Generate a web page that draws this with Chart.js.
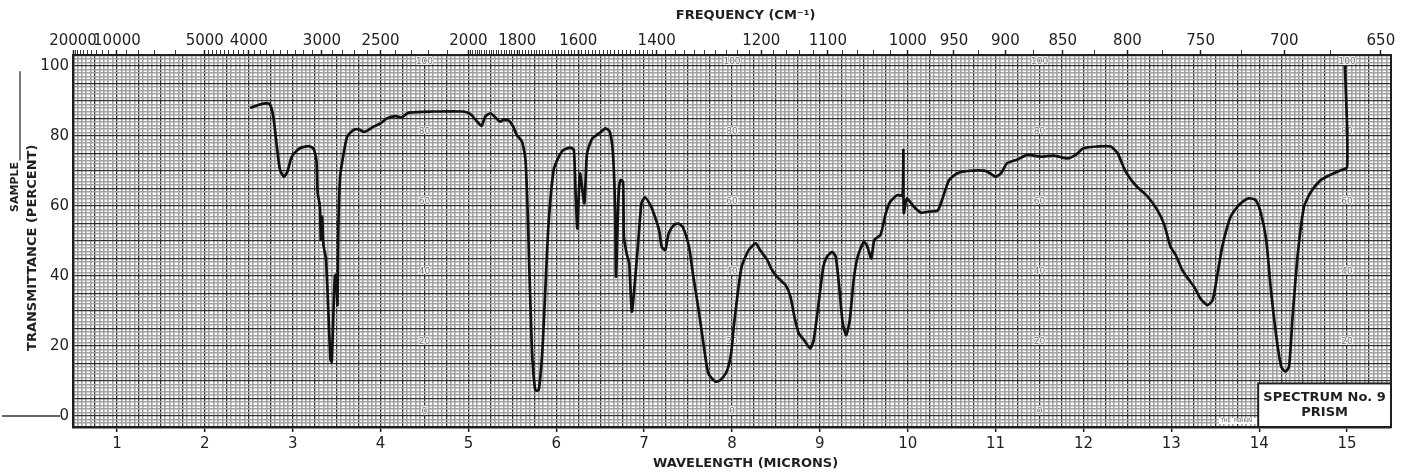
<!DOCTYPE html>
<html>
<head>
<meta charset="utf-8">
<title>IR spectrum No. 9</title>
<script src="https://cdn.jsdelivr.net/npm/chart.js@4.4.1/dist/chart.umd.min.js"></script>
<style>
  html, body { margin: 0; padding: 0; background: #fff; }
  #wrap { position: relative; width: 1414px; height: 476px; }
</style>
</head>
<body>
<div id="wrap"><canvas id="spectrum"></canvas></div>
<script>
// wavelength (microns) and % transmittance
const wavelength = [
  2.515, 2.60, 2.686, 2.74, 2.78, 2.82, 2.856, 2.90, 2.94, 2.99, 3.08, 3.18, 3.236, 3.27, 3.285,
  3.31, 3.32, 3.335, 3.35, 3.38, 3.43, 3.445, 3.465, 3.48, 3.495, 3.51, 3.52, 3.54, 3.58, 3.62,
  3.69, 3.75, 3.81, 3.86, 3.92, 4.00, 4.07, 4.17, 4.24, 4.32, 4.60, 4.94, 5.02, 5.10, 5.15,
  5.19, 5.25, 5.30, 5.36, 5.40, 5.46, 5.51, 5.55, 5.61, 5.65, 5.68, 5.72, 5.76, 5.80, 5.84,
  5.87, 5.91, 5.97, 6.03, 6.08, 6.16, 6.20, 6.22, 6.24, 6.27, 6.32, 6.35, 6.41, 6.50, 6.56,
  6.61, 6.645, 6.67, 6.68, 6.71, 6.73, 6.76, 6.77, 6.80, 6.83, 6.86, 6.90, 6.94, 6.97, 7.01,
  7.07, 7.11, 7.17, 7.20, 7.24, 7.28, 7.34, 7.39, 7.44, 7.51, 7.56, 7.62, 7.68, 7.73, 7.81,
  7.87, 7.94, 7.99, 8.02, 8.065, 8.11, 8.19, 8.27, 8.32, 8.40, 8.455, 8.53, 8.61, 8.665, 8.71,
  8.76, 8.82, 8.89, 8.93, 8.99, 9.04, 9.08, 9.14, 9.18, 9.22, 9.26, 9.30, 9.34, 9.385, 9.43,
  9.50, 9.54, 9.585, 9.62, 9.69, 9.75, 9.80, 9.88, 9.94, 9.95, 9.955, 9.99, 10.07, 10.15, 10.24,
  10.34, 10.39, 10.47, 10.56, 10.68, 10.87, 10.94, 11.00, 11.06, 11.13, 11.25, 11.36, 11.51, 11.66, 11.82,
  11.91, 12.00, 12.16, 12.31, 12.39, 12.48, 12.59, 12.73, 12.84, 12.92, 12.99, 13.05, 13.125, 13.20, 13.26,
  13.33, 13.41, 13.47, 13.52, 13.58, 13.66, 13.71, 13.79, 13.88, 13.96, 14.02, 14.08, 14.13, 14.19, 14.25,
  14.30, 14.34, 14.38, 14.44, 14.51, 14.59, 14.70, 14.81, 14.89, 14.96, 15.00, 15.00, 14.975
];
const transmittance = [
  88, 88.8, 89.3, 89.1, 85.5, 77, 70.3, 68.4, 69.8, 74.1, 76.5, 77.1, 76.5, 73.1, 63.6,
  60, 50.3, 57, 49, 44.6, 16, 15.5, 30.3, 39.8, 40.4, 31.7, 54, 68.4, 75, 79.8,
  81.7, 81.9, 81.2, 81.7, 82.7, 83.6, 85, 85.7, 85.3, 86.7, 87, 87, 86.3, 84.1, 82.9,
  85.5, 86.5, 85.5, 84.1, 84.6, 84.4, 82.7, 80.3, 78.4, 73.1, 54, 20.8, 7.4, 7.4, 17.9,
  33.1, 54, 70.3, 74.1, 76, 76.7, 76, 63.6, 53.6, 69.3, 60.8, 75, 79.3, 81, 82.2,
  81.2, 75, 58.9, 39.8, 63.6, 67.4, 66.9, 51.2, 46.5, 43.6, 29.8, 39.8, 52.2, 60.8, 62.5,
  60.3, 57.9, 53.1, 48.4, 47.4, 52.2, 54.6, 55, 54, 48.4, 39.8, 30.3, 19.8, 12.2, 9.8,
  10.3, 12.7, 17.9, 25.5, 35, 42.7, 47.4, 49.3, 47.4, 44.6, 41.7, 39.3, 37.4, 34.1, 28.4,
  23.6, 21.7, 19.3, 21.7, 33.1, 42.7, 45.5, 46.9, 45.5, 36.9, 26.5, 23.1, 27.4, 38.9, 45.5,
  49.8, 48.4, 45, 50.3, 51.7, 57.9, 61.2, 63.1, 63, 76, 58, 62.2, 59.8, 58.1, 58.4,
  58.7, 61.7, 67.4, 69.3, 70, 70.1, 69.3, 68.4, 69.3, 72.2, 73.3, 74.6, 74.1, 74.4, 73.6,
  74.6, 76.5, 77, 77, 75, 69.8, 66, 62.7, 58.9, 54.6, 48.4, 46, 41.7, 38.9, 36.9,
  33.6, 31.7, 33.1, 39.8, 48.4, 56, 58.4, 60.8, 62.2, 61.7, 57.9, 50.3, 36.9, 23.6, 14.1,
  12.7, 14.1, 28.4, 46.5, 59.8, 64.1, 67.4, 68.9, 69.8, 70.5, 71, 83, 100
];

// axis labels
const wavelengthLabels = [1, 2, 3, 4, 5, 6, 7, 8, 9, 10, 11, 12, 13, 14, 15];
const percentLabels = [0, 20, 40, 60, 80, 100];
const frequencyLabels = [20000, 10000, 5000, 4000, 3000, 2500, 2000, 1800, 1600, 1400,
  1200, 1100, 1000, 950, 900, 850, 800, 750, 700, 650];
// printed chart-paper numbers (columns in microns)
const paperColumns = [4.5, 8, 11.5, 15];
const paperValues = [100, 80, 60, 40, 20, 0];

const X_MIN = 0.5, X_MAX = 15.5, Y_MIN = -3.15, Y_MAX = 103.15;
const INK = "#1f1f1f";
const FINE = "#a2a2a2";
const MAJOR = "#2e2e2e";

Chart.defaults.font.family = "'DejaVu Sans', Verdana, sans-serif";
Chart.defaults.color = INK;

function onStep(v, step) {
  return Math.abs(v / step - Math.round(v / step)) < 1e-6;
}

// graph paper rulings: 0.05 micron / 1 percent fine, 0.25 micron / 5 percent heavy
const xRulings = [];
for (let i = 0; i <= 300; i++) xRulings.push(+(X_MIN + i * 0.05).toFixed(2));
const yRulings = [];
for (let v = -3; v <= 103; v++) yRulings.push(v);

// small tick marks of the frequency scale
const frequencyMinor = [];
function addMinor(from, to, step) {
  for (let f = from; f > to; f -= step) {
    if (!frequencyLabels.includes(f) && !frequencyMinor.includes(f)) frequencyMinor.push(f);
  }
}
addMinor(20000, 10000, 1000);
addMinor(10000, 5000, 1000);
addMinor(5000, 2000, 100);
addMinor(2000, 1400, 10);
addMinor(1400, 1000, 20);
addMinor(1000, 650, 25);
const frequencyTicks = frequencyLabels.concat(frequencyMinor).sort((a, b) => b - a);

const points = wavelength.map((w, i) => ({ x: w, y: transmittance[i] }));

const paperMarks = {
  id: "paperMarks",
  beforeDatasetsDraw(chart) {
    const { ctx, scales: { x, y } } = chart;
    ctx.save();
    ctx.font = "9px 'DejaVu Sans'";
    ctx.textAlign = "center";
    ctx.textBaseline = "middle";
    ctx.lineWidth = 2;
    ctx.strokeStyle = "#f2f2f2";
    ctx.fillStyle = "#777777";
    paperColumns.forEach((col) => {
      paperValues.forEach((v) => {
        const px = x.getPixelForValue(col);
        const py = y.getPixelForValue(v + 1.3);
        ctx.strokeText(String(v), px, py);
        ctx.fillText(String(v), px, py);
      });
    });
    ctx.restore();
  },
  afterDatasetsDraw(chart) {
    const { ctx, chartArea, scales: { x, y } } = chart;
    ctx.save();
    // maker's strip
    const stripLeft = x.getPixelForValue(13.54);
    const boxLeft = x.getPixelForValue(14.0) - 1;
    ctx.fillStyle = "#fff";
    ctx.fillRect(stripLeft, chartArea.bottom - 9, boxLeft - stripLeft, 6);
    ctx.fillStyle = "#555";
    ctx.font = "5px 'DejaVu Sans'";
    ctx.textBaseline = "middle";
    ctx.fillText("THE  PERKIN", stripLeft + 2, chartArea.bottom - 6);
    // label box
    const boxTop = y.getPixelForValue(9.3);
    ctx.fillStyle = "#fff";
    ctx.fillRect(boxLeft, boxTop, chartArea.right - boxLeft, chartArea.bottom - boxTop);
    ctx.strokeStyle = INK;
    ctx.lineWidth = 2;
    ctx.strokeRect(boxLeft, boxTop, chartArea.right - boxLeft, chartArea.bottom - boxTop);
    ctx.fillStyle = INK;
    ctx.font = "bold 13px 'DejaVu Sans'";
    ctx.textAlign = "center";
    const cx = (boxLeft + chartArea.right) / 2;
    ctx.fillText("SPECTRUM No. 9", cx, boxTop + 14);
    ctx.fillText("PRISM", cx, boxTop + 29);
    ctx.restore();
  },
  afterDraw(chart) {
    const { ctx, scales: { y } } = chart;
    ctx.save();
    ctx.strokeStyle = "#333";
    ctx.lineWidth = 1.3;
    const zeroY = y.getPixelForValue(0);
    ctx.beginPath();
    ctx.moveTo(2, zeroY);
    ctx.lineTo(60, zeroY);
    ctx.moveTo(20, y.getPixelForValue(98.5));
    ctx.lineTo(20, y.getPixelForValue(73));
    ctx.stroke();
    ctx.translate(18, y.getPixelForValue(58.3));
    ctx.rotate(-Math.PI / 2);
    ctx.fillStyle = INK;
    ctx.font = "bold 11px 'DejaVu Sans'";
    ctx.textAlign = "left";
    ctx.fillText("SAMPLE", 0, 0);
    ctx.restore();
  },
};

new Chart(document.getElementById("spectrum"), {
  type: "scatter",
  data: {
    datasets: [{
      label: "Spectrum No. 9",
      data: points,
      showLine: true,
      borderColor: "#111",
      borderWidth: 2.7,
      pointRadius: 0,
      tension: 0.2,
    }],
  },
  options: {
    responsive: true,
    maintainAspectRatio: false,
    animation: false,
    events: [],
    layout: { padding: 0 },
    plugins: { legend: { display: false }, tooltip: { enabled: false } },
    scales: {
      x: {
        type: "linear",
        position: "bottom",
        min: X_MIN,
        max: X_MAX,
        afterBuildTicks: (axis) => { axis.ticks = xRulings.map((v) => ({ value: v })); },
        afterFit: (axis) => { axis.height = 49; },
        grid: {
          color: (c) => (onStep(c.tick.value, 0.25) ? MAJOR : FINE),
          lineWidth: (c) => (onStep(c.tick.value, 0.25) ? 1.3 : 1.6),
          drawTicks: true,
          tickLength: 5,
          tickWidth: 1.5,
          tickColor: (c) => (wavelengthLabels.includes(c.tick.value) ? INK : "rgba(0,0,0,0)"),
        },
        border: { display: true, color: INK, width: 2.5 },
        ticks: {
          autoSkip: false,
          maxRotation: 0,
          padding: 3,
          font: { size: 15 },
          callback: (v) => (wavelengthLabels.includes(v) ? String(v) : ""),
        },
        title: {
          display: true,
          text: "      WAVELENGTH (MICRONS)",
          font: { size: 13, weight: "bold" },
          padding: { top: 0, bottom: 5 },
        },
      },
      xTop: {
        type: "linear",
        position: "top",
        min: X_MIN,
        max: X_MAX,
        afterBuildTicks: (axis) => { axis.ticks = frequencyTicks.map((f) => ({ value: 10000 / f })); },
        afterFit: (axis) => { axis.height = 55; },
        grid: {
          drawOnChartArea: false,
          drawTicks: true,
          tickLength: 5,
          tickColor: INK,
          tickWidth: (c) => (frequencyLabels.includes(Math.round(10000 / c.tick.value)) ? 1.5 : 0.9),
        },
        border: { display: true, color: INK, width: 2 },
        ticks: {
          autoSkip: false,
          maxRotation: 0,
          padding: 0,
          font: { size: 15 },
          callback: (v) => {
            const f = Math.round(10000 / v);
            return frequencyLabels.includes(f) ? String(f) : "";
          },
        },
        title: {
          display: true,
          text: "      FREQUENCY (CM\u207B\u00B9)",
          font: { size: 13, weight: "bold" },
          padding: { top: 8, bottom: 0 },
        },
      },
      y: {
        type: "linear",
        position: "left",
        min: Y_MIN,
        max: Y_MAX,
        afterBuildTicks: (axis) => { axis.ticks = yRulings.map((v) => ({ value: v })); },
        afterFit: (axis) => { axis.width = 73; },
        grid: {
          color: (c) => (onStep(c.tick.value, 5) ? MAJOR : FINE),
          lineWidth: (c) => (onStep(c.tick.value, 5) ? 1.3 : 1.6),
          drawTicks: false,
        },
        border: { display: true, color: INK, width: 2.5 },
        ticks: {
          autoSkip: false,
          padding: 4,
          font: { size: 15 },
          callback: (v) => (percentLabels.includes(v) ? String(v) : ""),
        },
        title: {
          display: true,
          text: "TRANSMITTANCE (PERCENT)   ",
          font: { size: 13, weight: "bold" },
          padding: { top: 25, bottom: 0 },
        },
      },
      yRight: {
        type: "linear",
        position: "right",
        min: Y_MIN,
        max: Y_MAX,
        afterFit: (axis) => { axis.width = 23; },
        grid: { display: false },
        ticks: { display: false },
        border: { display: true, color: INK, width: 2 },
      },
    },
  },
  plugins: [paperMarks],
});
</script>
</body>
</html>
